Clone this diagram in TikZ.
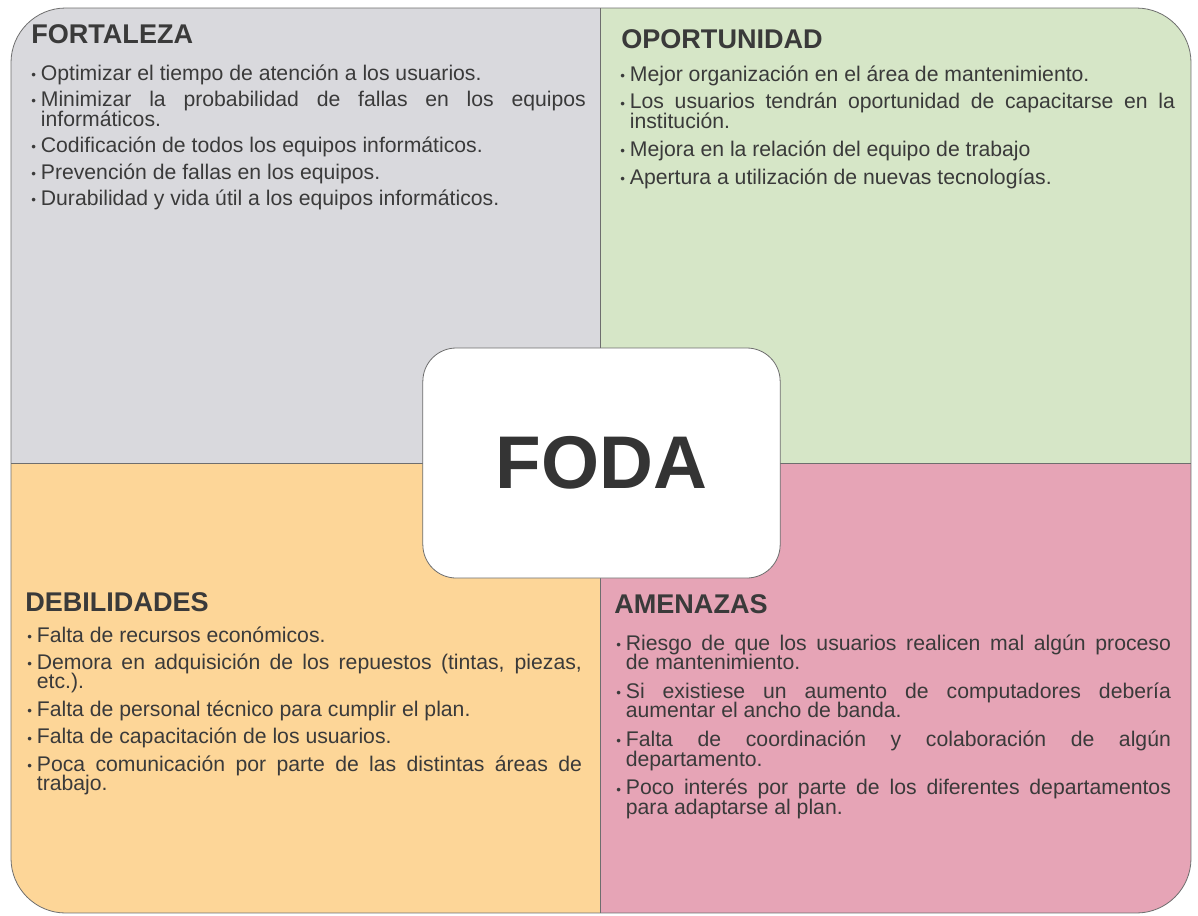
\documentclass[tikz,border=0pt]{standalone}
\usepackage{fontspec}
\setmainfont{Liberation Sans}
\definecolor{greyq}{RGB}{217,217,221}
\definecolor{greenq}{RGB}{214,230,199}
\definecolor{orangeq}{RGB}{253,214,152}
\definecolor{pinkq}{RGB}{230,164,182}
\definecolor{txt}{RGB}{58,58,58}
\definecolor{bord}{RGB}{110,110,110}
\newlength{\bw}\setlength{\bw}{7.2pt}
\newlength{\igap}\setlength{\igap}{5pt}
\newcommand{\bodyset}{\lineskiplimit=-20pt\relax\tolerance=10000\relax\hbadness=10000\relax\hyphenpenalty=10000\relax}
\newcommand{\bul}{{\fontsize{10pt}{10pt}\selectfont\raisebox{0.6pt}{•}}}
\newcommand{\itf}[1]{\hangindent=\bw\relax\hangafter=1\relax\noindent\makebox[\bw][l]{\bul}#1}
\newcommand{\itm}[1]{\par\vskip\igap\hangindent=\bw\relax\hangafter=1\relax\noindent\makebox[\bw][l]{\bul}#1}
\tikzset{
  head/.style={anchor=base west, inner sep=0pt, text=txt, font=\fontsize{20.3pt}{21pt}\selectfont\bfseries},
  body/.style={anchor=base west, inner sep=0pt, text=txt, text width=416pt, align=justify,
    font=\fontsize{15.9pt}{14.6pt}\selectfont},
  centerbox/.style={draw=bord, line width=0.6pt, fill=white, rounded corners=25pt,
    minimum width=268pt, minimum height=172.5pt, text=txt!90!black,
    font=\fontsize{56pt}{56pt}\selectfont\bfseries}
}
\begin{document}
\begin{tikzpicture}[x=0.75pt,y=-0.75pt]
\useasboundingbox (0,0) rectangle (1198,915);
% quadrants
\begin{scope}
  \clip[rounded corners=41pt] (11,8) rectangle (1191,913);
  \fill[greyq] (11,8) rectangle (600,463);
  \fill[greenq] (600,8) rectangle (1191,463);
  \fill[orangeq] (11,463) rectangle (600,913);
  \fill[pinkq] (600,463) rectangle (1191,913);
\end{scope}
\draw[bord, line width=0.6pt, rounded corners=41pt] (11,8) rectangle (1191,913);
\coordinate (vt) at (600,8);
\coordinate (vb) at (600,913);
\coordinate (hl) at (11,463);
\coordinate (hr) at (1191,463);
\draw[bord, line width=0.6pt] (vt) -- (vb);
\draw[bord, line width=0.6pt] (hl) -- (hr);

% texts
\node[head] (fh) at (31,43) {FORTALEZA};
\node[body] (fb) at (31,80) {\bodyset\setlength{\igap}{5.3pt}%
\itf{Optimizar el tiempo de atención a los usuarios.}%
\itm{Minimizar la probabilidad de fallas en los equipos \linebreak informáticos.}%
\itm{Codificación de todos los equipos informáticos.}%
\itm{Prevención de fallas en los equipos.}%
\itm{Durabilidad y vida útil a los equipos informáticos.}\par};

\node[head] (oh) at (621,48) {OPORTUNIDAD};
\node[body] (ob) at (620,81) {\bodyset\setlength{\igap}{6.3pt}%
\itf{Mejor organización en el área de mantenimiento.}%
\itm{Los usuarios tendrán oportunidad de capacitarse en la \linebreak institución.}%
\itm{Mejora en la relación del equipo de trabajo}%
\itm{Apertura a utilización de nuevas tecnologías.}\par};

\node[head] (dh) at (25,611) {DEBILIDADES};
\node[body] (db) at (27,642) {\bodyset\setlength{\igap}{6pt}%
\itf{Falta de recursos económicos.}%
\itm{Demora en adquisición de los repuestos (tintas, piezas, \linebreak etc.).}%
\itm{Falta de personal técnico para cumplir el plan.}%
\itm{Falta de capacitación de los usuarios.}%
\itm{Poca comunicación por parte de las distintas áreas de \linebreak trabajo.}\par};

\node[head] (ah) at (614,613) {AMENAZAS};
\node[body] (ab) at (616,650) {\bodyset\setlength{\igap}{7pt}%
\itf{Riesgo de que los usuarios realicen mal algún proceso \linebreak de mantenimiento.}%
\itm{Si existiese un aumento de computadores debería \linebreak aumentar el ancho de banda.}%
\itm{Falta de coordinación y colaboración de algún \linebreak departamento.}%
\itm{Poco interés por parte de los diferentes departamentos \linebreak para adaptarse al plan.}\par};

\node[centerbox] (foda) at (601.5,463) {FODA};
\end{tikzpicture}
\end{document}
